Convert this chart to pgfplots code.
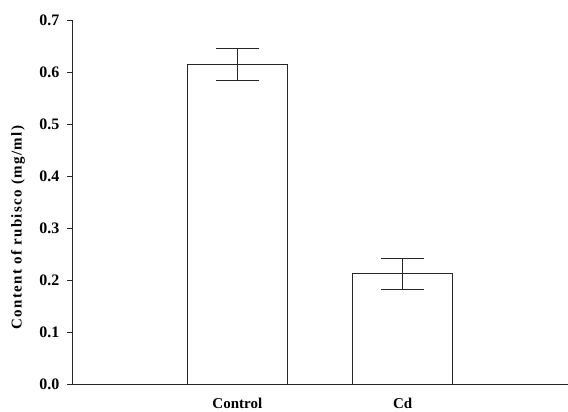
\documentclass[border=0pt]{standalone}
\usepackage{pgfplots}
\pgfplotsset{compat=1.18}
\usepackage{fontspec}
\setmainfont{Liberation Serif}
\begin{document}
\begin{tikzpicture}
\useasboundingbox (-72pt,-28pt) rectangle (496pt,384pt);
\begin{axis}[
  scale only axis,
  width=496pt, height=364pt,
  xmin=0, xmax=3,
  ymin=0, ymax=0.7,
  axis lines=left,
  axis line style={-, line width=0.8pt, black!85},
  xtick={1,2},
  xticklabels={Control, Cd},
  x tick style={draw=none},
  ytick={0,0.1,...,0.7},
  y tick style={line width=0.8pt, black!85},
  tick align=outside,
  major tick length=5pt,
  yticklabel style={
    /pgf/number format/fixed,
    /pgf/number format/fixed zerofill,
    /pgf/number format/precision=1,
    font=\bfseries\fontsize{16}{18}\selectfont},
  /pgf/number format/assume math mode=true,
  xticklabel style={font=\bfseries\fontsize{15}{17}\selectfont},
  yticklabel shift=4pt,
  xticklabel shift=6pt,
  ylabel={Content of rubisco (mg/ml)},
  every axis y label/.style={
    at={(axis description cs:-0.109,0.43)}, anchor=center, rotate=90,
    font=\bfseries\fontsize{15}{17}\selectfont\addfontfeatures{LetterSpace=9}},
  ybar, bar width=100pt,
  clip=false,
]
\addplot[draw=black!85, fill=white, line width=0.8pt,
  error bars/.cd, y dir=both, y explicit,
  error bar style={line width=0.8pt, black!85},
  error mark options={rotate=90, mark size=21.5pt, line width=0.8pt, black!85}]
  coordinates {
    (1,0.615) +- (0,0.031)
    (2,0.212) +- (0,0.030)
  };
\end{axis}
\end{tikzpicture}
\end{document}
